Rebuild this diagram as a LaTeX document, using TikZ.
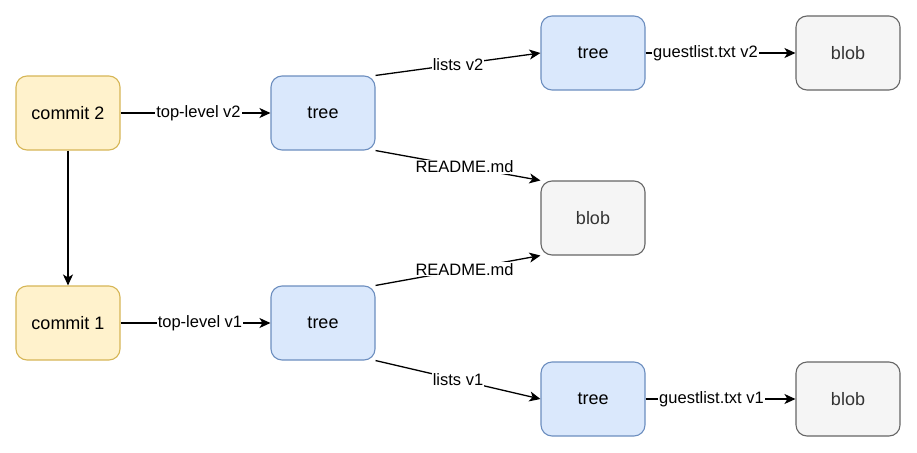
\documentclass[tikz,border=0pt]{standalone}
\usepackage{fontspec}
\setmainfont{Liberation Sans}
\usetikzlibrary{arrows.meta}
\definecolor{cfill}{HTML}{FFF2CC}
\definecolor{cdraw}{HTML}{D6B656}
\definecolor{tfill}{HTML}{DAE8FC}
\definecolor{tdraw}{HTML}{6C8EBF}
\definecolor{bfill}{HTML}{F5F5F5}
\definecolor{bdraw}{HTML}{666666}
\definecolor{btext}{HTML}{333333}
\tikzset{
  box/.style={rectangle, rounded corners=11pt, minimum width=104pt, minimum height=74pt, line width=1.1pt, inner sep=0pt, font=\fontsize{18}{20}\selectfont},
  commitbox/.style={box, fill=cfill, draw=cdraw},
  treebox/.style={box, fill=tfill, draw=tdraw},
  blobbox/.style={box, fill=bfill, draw=bdraw, text=btext},
  conn/.style={line width=1.3pt, -{Stealth[length=11pt, width=10pt, inset=3pt]}},
  lbl/.style={fill=white, inner sep=1pt, font=\fontsize{16.5}{18}\selectfont, text=black}
}
\begin{document}
\begin{tikzpicture}[x=1pt,y=-1pt]
\useasboundingbox (0,0) rectangle (917,452);
\node[commitbox] (c2) at (68,113) {commit 2};
\node[commitbox] (c1) at (68,323) {commit 1};
\node[treebox] (t2) at (323,113) {tree};
\node[treebox] (t1) at (323,323) {tree};
\node[treebox] (l2) at (593,53) {tree};
\node[blobbox] (bm) at (593,218) {blob};
\node[treebox] (l1) at (593,399) {tree};
\node[blobbox] (g2) at (848,53) {blob};
\node[blobbox] (g1) at (848,399) {blob};

\draw[conn] (c2) -- (c1);
\draw[conn] (c2.east) -- node[lbl, pos=0.52] {top-level v2} (t2.west);
\draw[conn] (c1.east) -- node[lbl, pos=0.53] {top-level v1} (t1.west);
\draw[conn] (t2.north east) -- node[lbl, pos=0.5] {lists v2} (l2.west);
\draw[conn] (t2.south east) -- node[lbl, pos=0.54] {README.md} (bm.north west);
\draw[conn] (t1.north east) -- node[lbl, pos=0.54] {README.md} (bm.south west);
\draw[conn] (t1.south east) -- node[lbl, pos=0.5] {lists v1} (l1.west);
\draw[conn] (l2.east) -- node[lbl, pos=0.40] {guestlist.txt v2} (g2.west);
\draw[conn] (l1.east) -- node[lbl, pos=0.44] {guestlist.txt v1} (g1.west);
\end{tikzpicture}
\end{document}
